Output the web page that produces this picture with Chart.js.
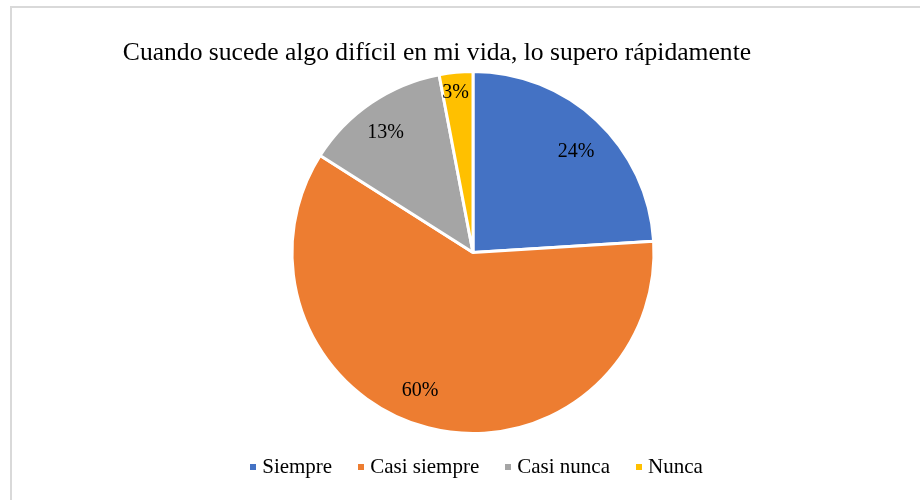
<!DOCTYPE html>
<html lang="es">
<head>
<meta charset="utf-8">
<title>Cuando sucede algo difícil en mi vida, lo supero rápidamente</title>
<script src="https://cdn.jsdelivr.net/npm/chart.js@4"></script>
<style>
  html, body { margin: 0; padding: 0; background: #fff; overflow: hidden; }
  body { width: 920px; height: 500px; position: relative; font-family: "Liberation Serif", "Times New Roman", serif; }
  .frame { position: absolute; left: 10px; top: 6px; width: 940px; height: 520px;
           border-left: 2px solid #d9d9d9; border-top: 2px solid #d9d9d9; }
  #chart-title { position: absolute; left: 0; width: 874px; top: 37px; text-align: center;
                 font-size: 25.6px; color: #000; white-space: nowrap; }
  #chart-legend { position: absolute; left: 0; width: 953px; top: 454px; display: flex;
                  justify-content: center; font-size: 21px; color: #000; white-space: nowrap; }
  .leg-item { display: flex; align-items: center; margin: 0 13px; }
  .leg-box { width: 6px; height: 6px; margin-right: 6px; }
  #wrap { position: absolute; left: 0; top: 0; width: 920px; height: 500px; }
</style>
</head>
<body>
<div class="frame"></div>
<div id="wrap"><canvas id="pie"></canvas></div>
<div id="chart-title">Cuando sucede algo difícil en mi vida, lo supero rápidamente</div>
<div id="chart-legend"></div>

<script>
/* ── Datos ── */
const categorias = ['Siempre', 'Casi siempre', 'Casi nunca', 'Nunca'];
const porcentajes = [24, 60, 13, 3];
const colores = ['#4472C4', '#ED7D31', '#A5A5A5', '#FFC000'];

const serif = "'Liberation Serif', 'Times New Roman', serif";

// etiquetas de porcentaje dentro de cada sector
const pieLabels = {
  id: 'pieLabels',
  afterDatasetsDraw(chart, args, opts) {
    const ctx = chart.ctx;
    const meta = chart.getDatasetMeta(0);
    ctx.save();
    ctx.font = '20px ' + serif;
    ctx.fillStyle = '#000';
    ctx.textAlign = 'center';
    ctx.textBaseline = 'middle';
    meta.data.forEach((arc, i) => {
      const { x, y, startAngle, endAngle, outerRadius } =
        arc.getProps(['x', 'y', 'startAngle', 'endAngle', 'outerRadius'], true);
      const mid = (startAngle + endAngle) / 2;
      const val = chart.data.datasets[0].data[i];
      const r = outerRadius * (val < 5 ? 0.9 : 0.8);
      const [nx, ny] = (opts.nudge && opts.nudge[i]) || [0, 0];
      ctx.fillText(val + '%', x + Math.cos(mid) * r + nx, y + Math.sin(mid) * r + ny);
    });
    ctx.restore();
  },
};

const chart = new Chart(document.getElementById('pie'), {
  type: 'pie',
  data: {
    labels: categorias,
    datasets: [{
      data: porcentajes,
      backgroundColor: colores,
      borderColor: '#fff',
      borderWidth: 3,
    }],
  },
  options: {
    responsive: true,
    maintainAspectRatio: false,
    animation: false,
    layout: { padding: { left: 290, right: 264, top: 70, bottom: 65 } },
    plugins: {
      legend: { display: false },
      title: { display: false },
      tooltip: { enabled: false },
      pieLabels: { nudge: [[4, 5], [-17, -2], [-6, 0], [-2, 2]] },
    },
  },
  plugins: [pieLabels],
});

/* ── Leyenda ── */
document.getElementById('chart-legend').innerHTML = categorias.map((c, i) => `
  <div class="leg-item"><span class="leg-box" style="background:${colores[i]}"></span>${c}</div>`).join('');
</script>
</body>
</html>
